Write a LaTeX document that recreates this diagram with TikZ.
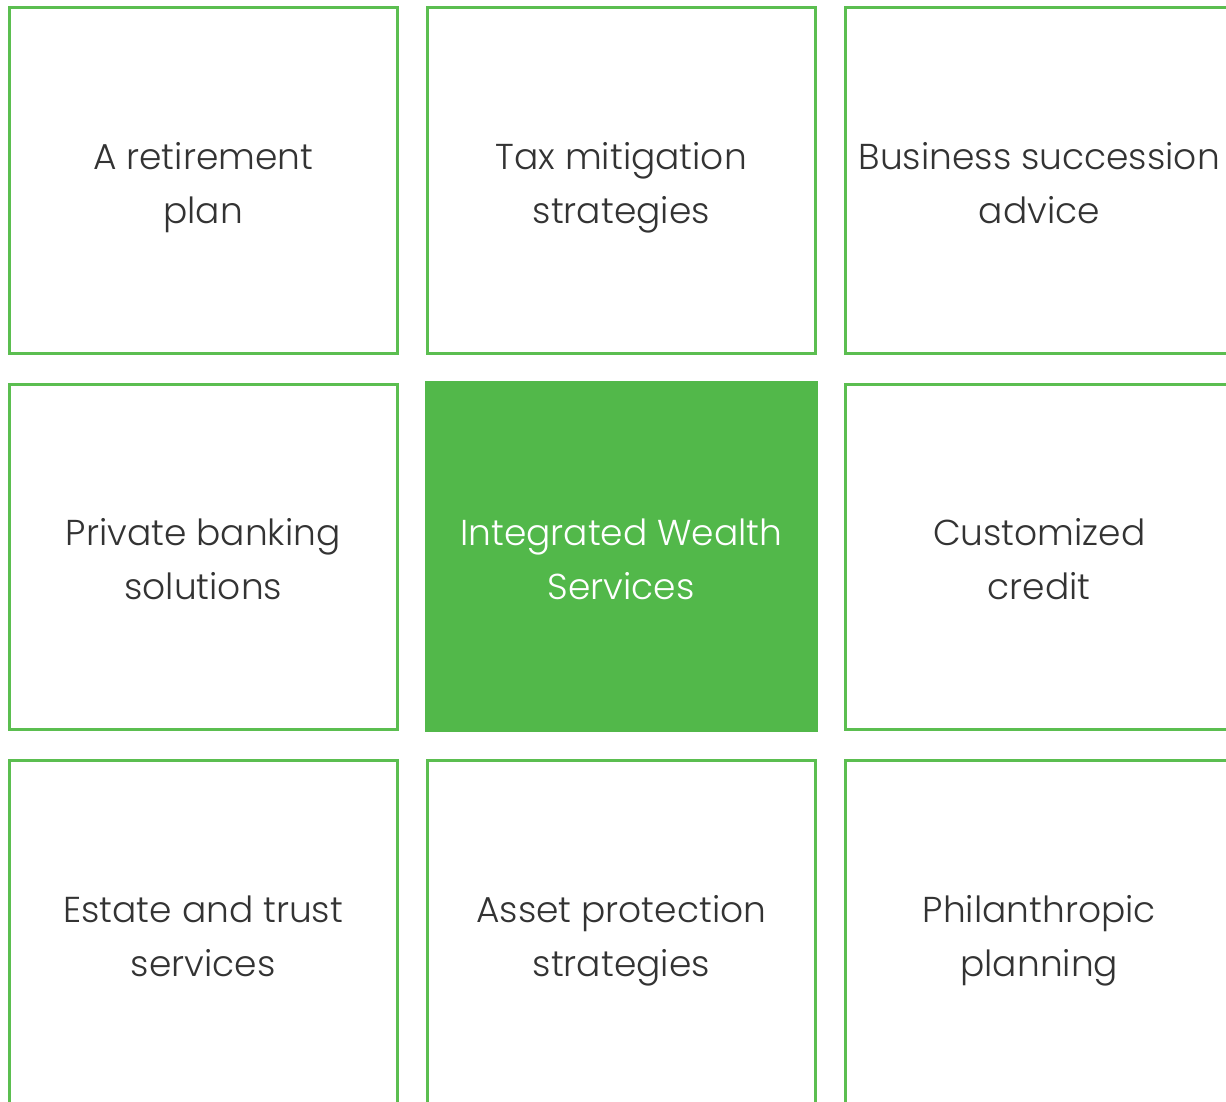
\documentclass[tikz,border=0pt]{standalone}
\usepackage{fontspec}
\setmainfont{Poppins}[UprightFont=* Light]
\definecolor{gline}{HTML}{5BBE50}
\definecolor{gfill}{HTML}{52B84A}
\definecolor{txt}{HTML}{333333}
\newcommand{\twolines}[2]{\rule{0pt}{44pt}#1\\#2\rule[-12.5pt]{0pt}{12.5pt}}
\tikzset{
  cell/.style={draw=gline, line width=3pt, minimum width=387.5pt, minimum height=345.5pt,
    inner sep=0pt, align=center, text=txt, font=\fontsize{36}{54}\selectfont},
  hot/.style={cell, fill=gfill, draw=gfill, text=white, minimum width=390pt, minimum height=348pt}
}
\begin{document}
\begin{tikzpicture}[x=1pt,y=-1pt]
\useasboundingbox (0,0) rectangle (1226,1102);
\clip (0,0) rectangle (1226,1102);
\node[cell] (a) at (203.25,180.25) {\twolines{A retirement}{plan}};
\node[cell] (b) at (621.25,180.25) {\twolines{Tax mitigation}{strategies}};
\node[cell] (c) at (1039.25,180.25) {\twolines{Business succession}{advice}};
\node[cell] (d) at (203.25,556.75) {\twolines{Private banking}{solutions}};
\node[hot] (e) at (621.25,556.75) {\twolines{Integrated Wealth}{Services}};
\node[cell] (f) at (1039.25,556.75) {\twolines{Customized}{credit}};
\node[cell] (g) at (203.25,933.25) {\twolines{Estate and trust}{services}};
\node[cell] (h) at (621.25,933.25) {\twolines{Asset protection}{strategies}};
\node[cell] (i) at (1039.25,933.25) {\twolines{Philanthropic}{planning}};
\end{tikzpicture}
\end{document}
